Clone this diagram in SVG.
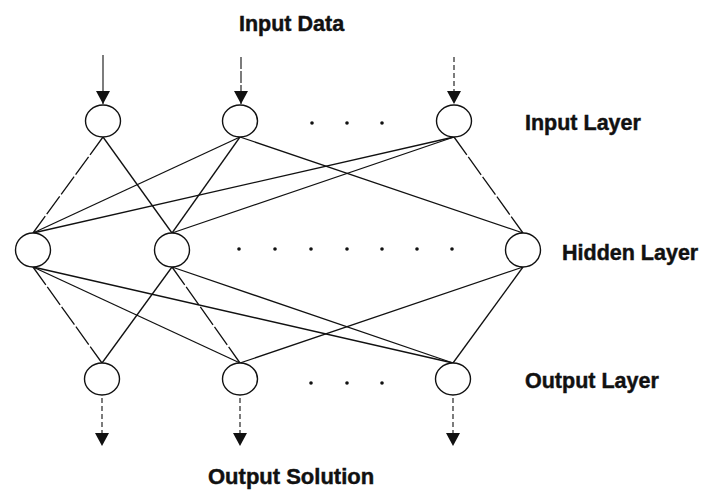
<svg xmlns="http://www.w3.org/2000/svg" width="702" height="490" viewBox="0 0 702 490">
<style>
.node{fill:#fff;stroke:#111;stroke-width:1.4}
.edge{stroke:#111;stroke-width:1.3;fill:none}
.ld{stroke-dasharray:22,2.5}
.arr{stroke:#111;stroke-width:1.1;fill:none}
.dash{stroke-dasharray:5,3}
.lbl{font-family:"Liberation Sans",Arial,sans-serif;font-weight:bold;font-size:21.5px;fill:#111;stroke:#111;stroke-width:0.45}
.dot{fill:#111}
</style>
<defs>
<marker id="ahd" markerWidth="14" markerHeight="13" refX="7" refY="13" markerUnits="userSpaceOnUse" viewBox="0 0 14 13">
<path d="M0,0 L14,0 L7,13 Z" fill="#111"/>
</marker>
</defs>
<rect width="702" height="490" fill="#fff"/>
<g id="connectors">
<line class="edge ld" x1="103" y1="137" x2="33" y2="233"/>
<line class="edge" x1="103" y1="137" x2="172" y2="233"/>
<line class="edge" x1="240" y1="137" x2="33" y2="233"/>
<line class="edge" x1="240" y1="137" x2="172" y2="233"/>
<line class="edge" x1="240" y1="137" x2="523" y2="233"/>
<line class="edge" x1="454" y1="137" x2="33" y2="233"/>
<line class="edge" x1="454" y1="137" x2="172" y2="233"/>
<line class="edge ld" x1="454" y1="137" x2="523" y2="233"/>
<line class="edge ld" x1="33" y1="267" x2="102" y2="363"/>
<line class="edge" x1="33" y1="267" x2="240" y2="363"/>
<line class="edge" x1="33" y1="267" x2="453" y2="363"/>
<line class="edge" x1="172" y1="267" x2="102" y2="363"/>
<line class="edge ld" x1="172" y1="267" x2="240" y2="363"/>
<line class="edge" x1="172" y1="267" x2="453" y2="363"/>
<line class="edge" x1="523" y1="267" x2="240" y2="363"/>
<line class="edge" x1="523" y1="267" x2="453" y2="363"/>
<line class="arr" x1="103" y1="55" x2="103" y2="104" marker-end="url(#ahd)"/>
<line class="arr" x1="241" y1="57" x2="241" y2="104" stroke-dasharray="12,2" marker-end="url(#ahd)"/>
<line class="arr dash" x1="454" y1="57" x2="454" y2="104" marker-end="url(#ahd)"/>
<line class="arr dash" x1="102" y1="398" x2="102" y2="446" marker-end="url(#ahd)"/>
<line class="arr dash" x1="240" y1="398" x2="240" y2="446" marker-end="url(#ahd)"/>
<line class="arr dash" x1="453" y1="398" x2="453" y2="446" marker-end="url(#ahd)"/>
</g>
<g id="input1"><ellipse class="node" cx="103" cy="121" rx="17.5" ry="16"/></g>
<g id="input2"><ellipse class="node" cx="240" cy="121" rx="17.5" ry="16"/></g>
<g id="input3"><ellipse class="node" cx="454" cy="121" rx="17.5" ry="16"/></g>
<g id="hidden1"><ellipse class="node" cx="33" cy="250" rx="17.5" ry="17"/></g>
<g id="hidden2"><ellipse class="node" cx="172" cy="250" rx="17.5" ry="17"/></g>
<g id="hidden3"><ellipse class="node" cx="523" cy="250" rx="17.5" ry="17"/></g>
<g id="output1"><ellipse class="node" cx="102" cy="379" rx="17.5" ry="16"/></g>
<g id="output2"><ellipse class="node" cx="240" cy="379" rx="17.5" ry="16"/></g>
<g id="output3"><ellipse class="node" cx="453" cy="379" rx="17.5" ry="16"/></g>
<g id="ellipsis">
<circle class="dot" cx="312" cy="123" r="1.8"/>
<circle class="dot" cx="347" cy="123" r="1.8"/>
<circle class="dot" cx="382" cy="123" r="1.8"/>
<circle class="dot" cx="239" cy="249" r="1.8"/>
<circle class="dot" cx="275" cy="249" r="1.8"/>
<circle class="dot" cx="311" cy="249" r="1.8"/>
<circle class="dot" cx="347" cy="249" r="1.8"/>
<circle class="dot" cx="382" cy="249" r="1.8"/>
<circle class="dot" cx="417" cy="249" r="1.8"/>
<circle class="dot" cx="452" cy="249" r="1.8"/>
<circle class="dot" cx="311" cy="383" r="1.8"/>
<circle class="dot" cx="347" cy="383" r="1.8"/>
<circle class="dot" cx="382" cy="383" r="1.8"/>
</g>
<g id="labels">
<text class="lbl" x="239" y="31">Input Data</text>
<text class="lbl" x="525" y="130">Input Layer</text>
<text class="lbl" x="562" y="260">Hidden Layer</text>
<text class="lbl" x="525" y="388">Output Layer</text>
<text class="lbl" x="208" y="484" style="font-size:22px">Output Solution</text>
</g>
</svg>
